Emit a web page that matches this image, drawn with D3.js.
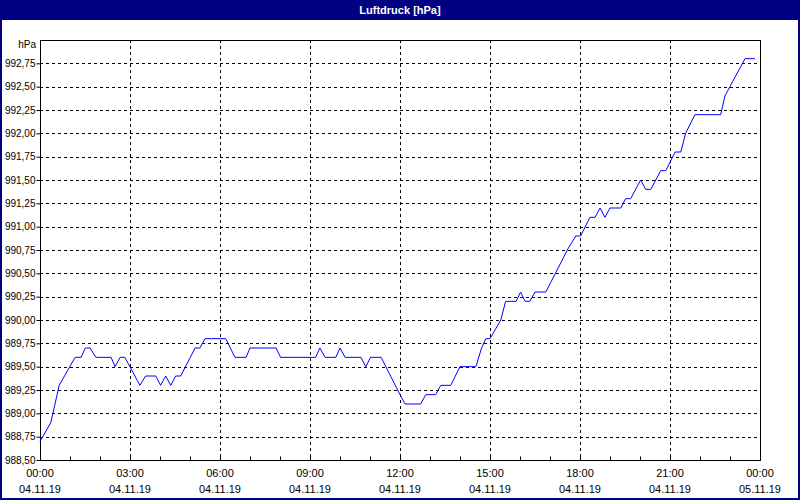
<!DOCTYPE html>
<html>
<head>
<meta charset="utf-8">
<script src="https://cdn.jsdelivr.net/npm/d3@7"></script>
<style>
  body { margin: 0; background: #fff; }
  svg text { font-family: Tahoma, "Liberation Sans", sans-serif; font-size: 11px; fill: #000; }
</style>
</head>
<body>
<div id="chart"></div>
<script>
// hours since 04.11.19 00:00
var hours = [0, 0.36, 0.64, 1.17, 1.37, 1.51, 1.67, 1.86, 2.37, 2.5, 2.67, 2.83, 3.33, 3.52, 3.86, 4.02, 4.19, 4.36, 4.52, 4.69,
  5.17, 5.33, 5.5, 6.19, 6.5, 6.87, 7.0, 7.87, 8.02, 9.19, 9.33, 9.5, 9.86, 10.0, 10.17, 10.7, 10.86, 11.02, 11.37,
  12.0, 12.17, 12.69, 12.86, 13.19, 13.36, 13.69, 14.0, 14.53, 14.72, 14.86, 15.0, 15.36, 15.52, 15.87, 16.02, 16.17,
  16.33, 16.5, 16.86, 17.61, 17.86, 18.02, 18.33, 18.5, 18.67, 18.83, 19.0, 19.36, 19.52, 19.69, 20.02, 20.19, 20.36,
  20.69, 20.86, 21.17, 21.36, 21.52, 21.83, 22.69, 22.83, 23.5, 23.83];
var pressure = [988.7, 988.9, 989.3, 989.6, 989.6, 989.7, 989.7, 989.6, 989.6, 989.5, 989.6, 989.6, 989.3, 989.4, 989.4, 989.3, 989.4, 989.3, 989.4, 989.4,
  989.7, 989.7, 989.8, 989.8, 989.6, 989.6, 989.7, 989.7, 989.6, 989.6, 989.7, 989.6, 989.6, 989.7, 989.6, 989.6, 989.5, 989.6, 989.6,
  989.2, 989.1, 989.1, 989.2, 989.2, 989.3, 989.3, 989.5, 989.5, 989.7, 989.8, 989.8, 990.0, 990.2, 990.2, 990.3, 990.2,
  990.2, 990.3, 990.3, 990.77, 990.9, 990.9, 991.1, 991.1, 991.2, 991.1, 991.2, 991.2, 991.3, 991.3, 991.5, 991.4, 991.4,
  991.6, 991.6, 991.8, 991.8, 992.0, 992.2, 992.2, 992.4, 992.8, 992.8];
var yTicks = [988.5, 988.75, 989, 989.25, 989.5, 989.75, 990, 990.25, 990.5, 990.75, 991, 991.25, 991.5, 991.75, 992, 992.25, 992.5, 992.75];
var xTicks = [0, 3, 6, 9, 12, 15, 18, 21, 24];
var xTimeLabels = ["00:00", "03:00", "06:00", "09:00", "12:00", "15:00", "18:00", "21:00", "00:00"];
var xDateLabels = ["04.11.19", "04.11.19", "04.11.19", "04.11.19", "04.11.19", "04.11.19", "04.11.19", "04.11.19", "05.11.19"];
var title = "Luftdruck [hPa]";

var W = 800, H = 500;
var m = { l: 40, r: 760, t: 40, b: 460 };
var svg = d3.select("#chart").append("svg").attr("width", W).attr("height", H);

var x = d3.scaleLinear().domain([0, 24]).range([m.l, m.r]);
var y = d3.scaleLinear().domain([988.5, 993]).range([m.b, m.t]);

// window frame and title bar
svg.append("rect").attr("x", 1).attr("y", 1).attr("width", W - 2).attr("height", H - 2)
  .attr("fill", "#fff").attr("stroke", "#000080").attr("stroke-width", 2);
svg.append("rect").attr("x", 0).attr("y", 0).attr("width", W).attr("height", 20).attr("fill", "#000080");
svg.append("text").attr("x", W / 2).attr("y", 14).attr("text-anchor", "middle")
  .style("fill", "#fff").style("font-weight", "bold").text(title);

// grid
svg.append("g").selectAll("line").data(yTicks.slice(1)).enter().append("line")
  .attr("x1", m.l).attr("x2", m.r)
  .attr("y1", function(d) { return Math.round(y(d)) + 0.5; })
  .attr("y2", function(d) { return Math.round(y(d)) + 0.5; })
  .attr("stroke", "#000").attr("stroke-dasharray", "3,3");
svg.append("g").selectAll("line").data(xTicks.slice(1, -1)).enter().append("line")
  .attr("y1", m.t).attr("y2", m.b)
  .attr("x1", function(d) { return Math.round(x(d)) + 0.5; })
  .attr("x2", function(d) { return Math.round(x(d)) + 0.5; })
  .attr("stroke", "#000").attr("stroke-dasharray", "3,3");

// y axis
var yAxis = svg.append("g").attr("transform", "translate(" + (m.l + 0.5) + ",0)")
  .call(d3.axisLeft(y).tickValues(yTicks).tickSize(4)
    .tickFormat(function(d) { return d3.format(".2f")(d).replace(".", ","); }));
yAxis.select(".domain").remove();
yAxis.selectAll("text").attr("font-family", null).attr("font-size", null)
  .style("font-size", "10px").attr("x", -5);
svg.append("text").attr("x", 36).attr("y", 48).attr("text-anchor", "end").style("font-size", "10px").text("hPa");

// x axis with hourly minor ticks
var xAxis = svg.append("g").attr("transform", "translate(0," + (m.b + 0.5) + ")")
  .call(d3.axisTop(x).ticks(24).tickSize(4).tickFormat(""));
xAxis.select(".domain").remove();
var lab = svg.append("g").selectAll("g").data(xTicks).enter().append("g");
lab.append("text").attr("x", function(d) { return x(d); }).attr("y", 477).attr("text-anchor", "middle")
  .text(function(d, i) { return xTimeLabels[i]; });
lab.append("text").attr("x", function(d) { return x(d); }).attr("y", 493).attr("text-anchor", "middle")
  .text(function(d, i) { return xDateLabels[i]; });

// plot frame
svg.append("rect").attr("x", m.l + 0.5).attr("y", m.t + 0.5).attr("width", m.r - m.l).attr("height", m.b - m.t)
  .attr("fill", "none").attr("stroke", "#000");

// line
var pts = hours.map(function(h, i) { return [h, pressure[i]]; });
svg.append("path").datum(pts)
  .attr("fill", "none").attr("stroke", "#0000ff").attr("stroke-width", 1)
  .attr("d", d3.line().x(function(d) { return x(d[0]); }).y(function(d) { return y(d[1]); }));
</script>
</body>
</html>
